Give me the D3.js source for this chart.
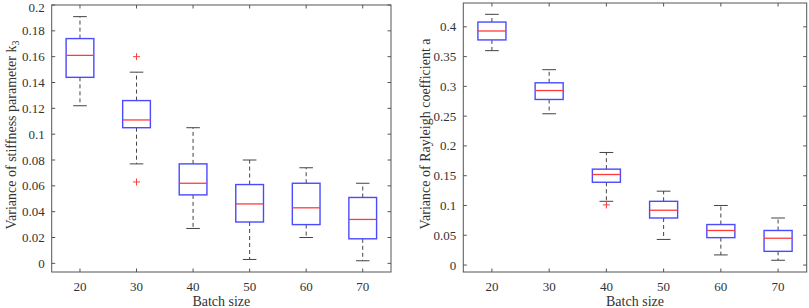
<!DOCTYPE html>
<html><head><meta charset="utf-8">
<script src="https://cdn.jsdelivr.net/npm/d3@7"></script>
<style>body{margin:0;background:#fff}svg{display:block}</style>
</head><body>
<svg id="c" width="809" height="308"></svg>
<script>
const batches = [20, 30, 40, 50, 60, 70];
// stiffness parameter k3: [lowWhisker, Q1, median, Q3, highWhisker]
const k3Low    = [0.122, 0.077, 0.027, 0.003, 0.020, 0.002];
const k3Q1     = [0.144, 0.105, 0.053, 0.032, 0.030, 0.019];
const k3Median = [0.161, 0.111, 0.062, 0.046, 0.043, 0.034];
const k3Q3     = [0.174, 0.126, 0.077, 0.061, 0.062, 0.051];
const k3High   = [0.191, 0.148, 0.105, 0.080, 0.074, 0.062];
const k3Outliers = [[30, 0.160], [30, 0.063]];
const k3Ticks = [0, 0.02, 0.04, 0.06, 0.08, 0.1, 0.12, 0.14, 0.16, 0.18, 0.2];

// Rayleigh coefficient a
const aLow    = [0.360, 0.254, 0.107, 0.043, 0.017, 0.008];
const aQ1     = [0.378, 0.278, 0.139, 0.079, 0.046, 0.023];
const aMedian = [0.393, 0.293, 0.152, 0.092, 0.058, 0.045];
const aQ3     = [0.408, 0.306, 0.161, 0.107, 0.068, 0.058];
const aHigh   = [0.421, 0.328, 0.189, 0.124, 0.100, 0.079];
const aOutliers = [[40, 0.101]];
const aTicks = [0, 0.05, 0.1, 0.15, 0.2, 0.25, 0.3, 0.35, 0.4];

const svg = d3.select("#c");
const FONT = "'Liberation Serif','Times New Roman',serif";
const AX = "#555";

function panel(opt) {
  const g = svg.append("g");
  const x = d3.scaleLinear().domain([15, 75]).range([opt.left, opt.right]);
  const y = d3.scaleLinear().domain(opt.ydom).range([opt.bottom, opt.top]);
  const tl = 3.5;
  // ticks (inward, all four sides)
  batches.forEach(b => {
    g.append("line").attr("x1", x(b)).attr("x2", x(b)).attr("y1", opt.bottom).attr("y2", opt.bottom - tl).attr("stroke", AX);
    g.append("line").attr("x1", x(b)).attr("x2", x(b)).attr("y1", opt.top).attr("y2", opt.top + tl).attr("stroke", AX);
    g.append("text").attr("x", x(b)).attr("y", opt.bottom + 19).attr("text-anchor", "middle")
      .attr("font-family", FONT).attr("font-size", 13).attr("fill", "#333").text(b);
  });
  opt.ticks.forEach(t => {
    g.append("line").attr("x1", opt.left).attr("x2", opt.left + tl).attr("y1", y(t)).attr("y2", y(t)).attr("stroke", AX);
    g.append("line").attr("x1", opt.right).attr("x2", opt.right - tl).attr("y1", y(t)).attr("y2", y(t)).attr("stroke", AX);
    g.append("text").attr("x", opt.left - 7).attr("y", Math.max(y(t) + 4.5, 12)).attr("text-anchor", "end")
      .attr("font-family", FONT).attr("font-size", 13).attr("fill", "#333").text(d3.format("~g")(t));
  });
  // frame
  g.append("rect").attr("x", opt.left).attr("y", opt.top).attr("width", opt.right - opt.left)
    .attr("height", opt.bottom - opt.top).attr("fill", "none").attr("stroke", AX).attr("stroke-width", 1);

  const hw = x(15 + 2.45) - x(15);
  const cw = x(15 + 1.2) - x(15);
  batches.forEach((b, i) => {
    const cx = x(b);
    // whiskers
    g.append("line").attr("x1", cx).attr("x2", cx).attr("y1", y(opt.q3[i])).attr("y2", y(opt.hi[i]))
      .attr("stroke", "#444").attr("stroke-dasharray", "4,3");
    g.append("line").attr("x1", cx).attr("x2", cx).attr("y1", y(opt.q1[i])).attr("y2", y(opt.lo[i]))
      .attr("stroke", "#444").attr("stroke-dasharray", "4,3");
    g.append("line").attr("x1", cx - cw).attr("x2", cx + cw).attr("y1", y(opt.hi[i])).attr("y2", y(opt.hi[i])).attr("stroke", "#444");
    g.append("line").attr("x1", cx - cw).attr("x2", cx + cw).attr("y1", y(opt.lo[i])).attr("y2", y(opt.lo[i])).attr("stroke", "#444");
    // box
    g.append("rect").attr("x", cx - hw).attr("y", y(opt.q3[i])).attr("width", 2 * hw)
      .attr("height", y(opt.q1[i]) - y(opt.q3[i])).attr("fill", "none").attr("stroke", "#4a4aff").attr("stroke-width", 1.4);
    // median
    g.append("line").attr("x1", cx - hw).attr("x2", cx + hw).attr("y1", y(opt.med[i])).attr("y2", y(opt.med[i]))
      .attr("stroke", "#ff3b3b").attr("stroke-width", 1.3);
  });
  opt.out.forEach(([b, v]) => {
    const cx = x(b), cy = y(v), s = 3.5;
    g.append("line").attr("x1", cx - s).attr("x2", cx + s).attr("y1", cy).attr("y2", cy).attr("stroke", "#ff3b3b");
    g.append("line").attr("x1", cx).attr("x2", cx).attr("y1", cy - s).attr("y2", cy + s).attr("stroke", "#ff3b3b");
  });
  // labels
  g.append("text").attr("x", (opt.left + opt.right) / 2).attr("y", opt.bottom + 34).attr("text-anchor", "middle")
    .attr("font-family", FONT).attr("font-size", 14).attr("fill", "#333").text("Batch size");
  const yl = g.append("text").attr("transform", `translate(${opt.ylx},${opt.yly}) rotate(-90)`)
    .attr("text-anchor", "middle").attr("font-family", FONT).attr("font-size", 14).attr("fill", "#333");
  yl.append("tspan").text(opt.ylabel);
  if (opt.sub) yl.append("tspan").attr("font-size", 10).attr("dy", 3).text(opt.sub);
}

panel({left: 51.7, right: 391, top: 5, bottom: 272, ydom: [-0.0067, 0.2], ticks: k3Ticks,
  lo: k3Low, q1: k3Q1, med: k3Median, q3: k3Q3, hi: k3High, out: k3Outliers,
  ylabel: "Variance of stiffness parameter k", sub: "3", ylx: 16, yly: 135});
panel({left: 463.3, right: 806.7, top: 3, bottom: 272, ydom: [-0.0117, 0.44], ticks: aTicks,
  lo: aLow, q1: aQ1, med: aMedian, q3: aQ3, hi: aHigh, out: aOutliers,
  ylabel: "Variance of Rayleigh coefficient a", sub: null, ylx: 430, yly: 134});
</script>
</body></html>
